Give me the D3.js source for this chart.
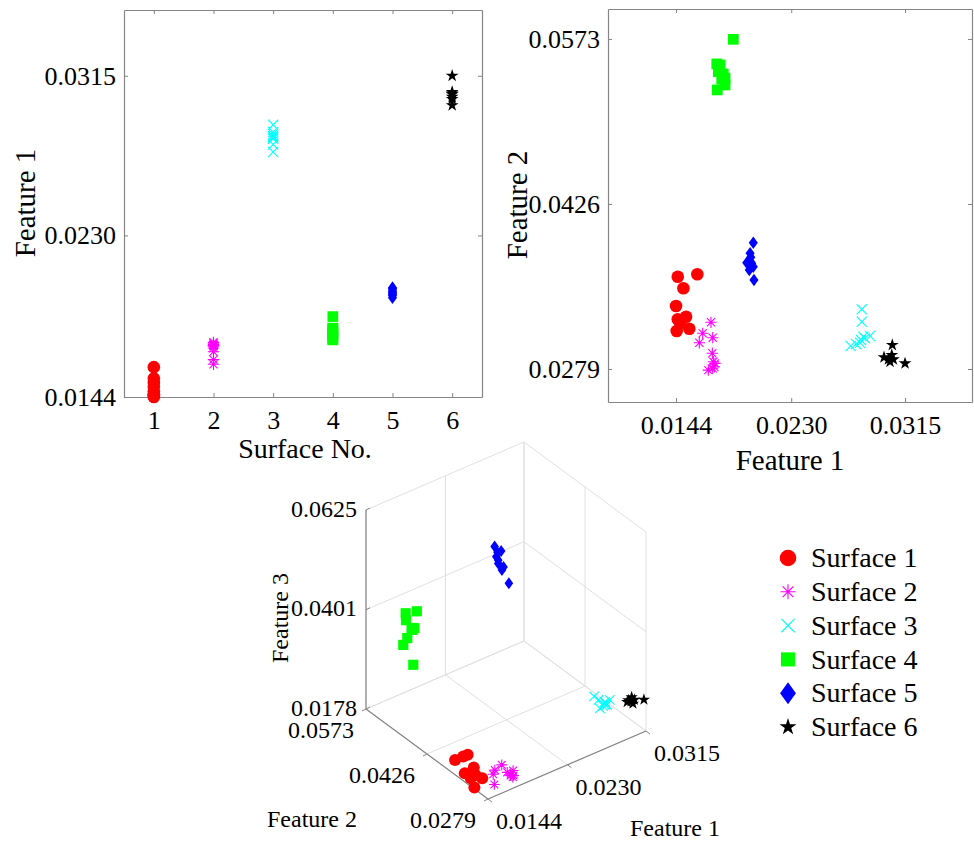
<!DOCTYPE html>
<html>
<head>
<meta charset="utf-8">
<script src="https://cdn.jsdelivr.net/npm/d3@7"></script>
<style>
  body { margin: 0; background: #fff; }
  svg { font-family: "Liberation Serif", "Times New Roman", serif; }
</style>
</head>
<body>
<svg id="chart" width="974" height="843"></svg>
<script>
// ---- data ----
const surfaceNames = ['Surface 1', 'Surface 2', 'Surface 3', 'Surface 4', 'Surface 5', 'Surface 6'];
const surfaceNo = [1, 2, 3, 4, 5, 6];

const feature1 = [
  [0.01453, 0.01599, 0.01495, 0.0144, 0.01453, 0.01515, 0.01445, 0.01539, 0.0147],
  [0.01701, 0.01639, 0.01714, 0.01614, 0.01711, 0.01719, 0.01731, 0.01681, 0.01714, 0.01726],
  [0.02827, 0.02827, 0.02889, 0.02839, 0.02744, 0.02814, 0.02821, 0.02784, 0.02851],
  [0.01868, 0.01744, 0.01769, 0.01756, 0.01793, 0.01806, 0.01781, 0.01806, 0.01748],
  [0.02017, 0.01993, 0.0198, 0.02005, 0.02017, 0.01968, 0.01998, 0.02022, 0.01987],
  [0.03055, 0.02993, 0.03051, 0.03038, 0.03063, 0.0315, 0.03026]
];
const feature2 = [
  [0.03612, 0.03634, 0.03509, 0.03351, 0.03233, 0.03256, 0.03129, 0.03149, 0.0320],
  [0.03206, 0.03108, 0.03069, 0.03024, 0.0293, 0.02855, 0.0284, 0.0278, 0.02796, 0.0281],
  [0.03322, 0.03211, 0.03084, 0.03078, 0.02995, 0.03024, 0.03048, 0.03013, 0.03063],
  [0.05727, 0.05508, 0.05499, 0.05439, 0.05418, 0.0538, 0.05371, 0.0532, 0.05276],
  [0.03915, 0.03821, 0.03746, 0.03731, 0.03701, 0.03737, 0.03785, 0.03583, 0.03672],
  [0.03004, 0.02894, 0.02915, 0.02855, 0.02876, 0.0284, 0.02876]
];
const feature3 = [
  [0.0208, 0.0205, 0.0219, 0.0197, 0.0193, 0.0193, 0.0180, 0.0191, 0.0218],
  [0.0191, 0.0194, 0.0211, 0.0179, 0.0204, 0.0203, 0.0198, 0.0210, 0.0217, 0.0204],
  [0.0248, 0.0248, 0.0251, 0.0249, 0.0251, 0.0250, 0.0255, 0.0252, 0.0245],
  [0.0355, 0.0310, 0.0364, 0.0329, 0.0350, 0.0351, 0.0350, 0.0393, 0.0281],
  [0.0616, 0.0602, 0.0593, 0.0620, 0.0585, 0.0620, 0.0596, 0.0556, 0.0583],
  [0.0241, 0.0250, 0.0254, 0.0245, 0.0250, 0.0245, 0.0250]
];

const f1Ticks = [0.0144, 0.0230, 0.0315];
const f2Ticks = [0.0279, 0.0426, 0.0573];
const f3Ticks = [0.0178, 0.0401, 0.0625];

const colors = ['#ff0000', '#ff00ff', '#00ffff', '#00ff00', '#0000ff', '#000000'];
const shapes = ['circle', 'asterisk', 'cross', 'square', 'diamond', 'star'];

// ---- helpers ----
const svg = d3.select('#chart');
const fmt = d3.format('.4f');
const axisColor = '#858585';

function markerPath(shape, s) {
  switch (shape) {
    case 'circle': return d3.symbol(d3.symbolCircle, Math.PI * s * s)();
    case 'square': return d3.symbol(d3.symbolSquare, 4 * s * s * 0.72)();
    case 'star': return d3.symbol(d3.symbolStar, s * s * 1.15 / 0.8908)();
    case 'diamond': {
      const w = s * 0.72, h = s;
      return `M0,${-h}L${w},0L0,${h}L${-w},0Z`;
    }
    case 'cross': {
      const k = s * 0.8;
      return `M${-k},${-k}L${k},${k}M${-k},${k}L${k},${-k}`;
    }
    case 'asterisk': {
      const k = s * 0.9, d = k * 0.72;
      return `M0,${-k}L0,${k}M${-k},0L${k},0M${-d},${-d}L${d},${d}M${-d},${d}L${d},${-d}`;
    }
  }
}

function styleMarker(sel, i) {
  const lineType = shapes[i] === 'cross' || shapes[i] === 'asterisk';
  sel.attr('fill', lineType ? 'none' : colors[i])
    .attr('stroke', lineType ? colors[i] : 'none')
    .attr('stroke-width', lineType ? 1.1 : 0);
}

function styleAxis(g, size) {
  g.attr('font-family', null).attr('font-size', size);
  g.selectAll('.domain').attr('stroke', axisColor).attr('stroke-width', 1.2);
  g.selectAll('.tick line').attr('stroke', axisColor);
  g.selectAll('.tick text').attr('fill', '#000');
}

function boxPlot(cfg) {
  const {x, y, xTicks, yTicks, xFmt, yFmt} = cfg;
  const [x0, x1] = x.range(), [y0, y1] = y.range();
  const g = svg.append('g');
  g.append('g').attr('transform', `translate(0,${y0})`)
    .call(d3.axisBottom(x).tickValues(xTicks).tickFormat(xFmt).tickSize(-4).tickSizeOuter(0).tickPadding(14))
    .call(s => styleAxis(s, 26));
  g.append('g').attr('transform', `translate(0,${y1})`)
    .call(d3.axisTop(x).tickValues(xTicks).tickFormat('').tickSize(-4).tickSizeOuter(0))
    .call(s => styleAxis(s, 26));
  g.append('g').attr('transform', `translate(${x0},0)`)
    .call(d3.axisLeft(y).tickValues(yTicks).tickFormat(yFmt).tickSize(-4).tickSizeOuter(0).tickPadding(8))
    .call(s => styleAxis(s, 26));
  g.append('g').attr('transform', `translate(${x1},0)`)
    .call(d3.axisRight(y).tickValues(yTicks).tickFormat('').tickSize(-4).tickSizeOuter(0))
    .call(s => styleAxis(s, 26));
  return g;
}

// ---- plot 1: Feature 1 vs surface number ----
const x1s = d3.scaleLinear().domain([0.5, 6.5]).range([124, 482]);
const y1s = d3.scaleLinear().domain([0.0144, 0.035]).range([397, 10]);
const p1 = boxPlot({x: x1s, y: y1s, xTicks: surfaceNo, yTicks: f1Ticks, xFmt: d3.format('d'), yFmt: fmt});
surfaceNo.forEach((n, i) => {
  p1.append('g').selectAll('path').data(feature1[i]).join('path')
    .attr('d', markerPath(shapes[i], 6.3))
    .attr('transform', d => `translate(${x1s(n)},${y1s(d)})`)
    .call(s => styleMarker(s, i));
});
svg.append('text').attr('x', 305).attr('y', 458).attr('text-anchor', 'middle')
  .attr('font-size', 28).text('Surface No.');
svg.append('text').attr('transform', 'translate(35,203) rotate(-90)').attr('text-anchor', 'middle')
  .attr('font-size', 29).text('Feature 1');

// ---- plot 2: Feature 2 vs Feature 1 ----
const x2s = d3.scaleLinear().domain([0.00932, 0.0365]).range([608, 972]);
const y2s = d3.scaleLinear().domain([0.02496, 0.05997]).range([402, 9]);
const p2 = boxPlot({x: x2s, y: y2s, xTicks: f1Ticks, yTicks: f2Ticks, xFmt: fmt, yFmt: fmt});
surfaceNames.forEach((name, i) => {
  p2.append('g').selectAll('path').data(feature1[i]).join('path')
    .attr('d', markerPath(shapes[i], 6.3))
    .attr('transform', (d, j) => `translate(${x2s(d)},${y2s(feature2[i][j])})`)
    .call(s => styleMarker(s, i));
});
svg.append('text').attr('x', 790).attr('y', 470).attr('text-anchor', 'middle')
  .attr('font-size', 29).text('Feature 1');
svg.append('text').attr('transform', 'translate(527,205) rotate(-90)').attr('text-anchor', 'middle')
  .attr('font-size', 29).text('Feature 2');

// ---- plot 3: 3-D view ----
const aS = d3.scaleLinear().domain([f1Ticks[0], f1Ticks[2]]).range([0, 1]);
const bS = d3.scaleLinear().domain([f2Ticks[0], f2Ticks[2]]).range([0, 1]);
const cS = d3.scaleLinear().domain([f3Ticks[0], f3Ticks[2]]).range([0, 1]);
const O = [488, 799], A = [158, -68], B = [-122, -90], C = [0, -199];
function proj(f1, f2, f3) {
  const a = aS(f1), b = bS(f2), c = cS(f3);
  return [O[0] + A[0] * a + B[0] * b, O[1] + A[1] * a + B[1] * b + C[1] * c];
}
const [f1min, f1max] = [f1Ticks[0], f1Ticks[2]];
const [f2min, f2max] = [f2Ticks[0], f2Ticks[2]];
const [f3min, f3max] = [f3Ticks[0], f3Ticks[2]];

const gridSegs = [];
f1Ticks.forEach(t => {
  gridSegs.push([proj(t, f2min, f3min), proj(t, f2max, f3min)]);
  gridSegs.push([proj(t, f2max, f3min), proj(t, f2max, f3max)]);
});
f2Ticks.forEach(t => {
  gridSegs.push([proj(f1min, t, f3min), proj(f1max, t, f3min)]);
  gridSegs.push([proj(f1max, t, f3min), proj(f1max, t, f3max)]);
});
f3Ticks.forEach(t => {
  gridSegs.push([proj(f1min, f2max, t), proj(f1max, f2max, t)]);
  gridSegs.push([proj(f1max, f2min, t), proj(f1max, f2max, t)]);
});
const p3 = svg.append('g');
p3.append('g').selectAll('line').data(gridSegs).join('line')
  .attr('x1', d => d[0][0]).attr('y1', d => d[0][1])
  .attr('x2', d => d[1][0]).attr('y2', d => d[1][1])
  .attr('stroke', '#e0e0e0').attr('stroke-width', 1);

const axisSegs = [
  [proj(f1min, f2min, f3min), proj(f1max, f2min, f3min)],
  [proj(f1min, f2min, f3min), proj(f1min, f2max, f3min)],
  [proj(f1min, f2max, f3min), proj(f1min, f2max, f3max)]
];
p3.append('g').selectAll('line').data(axisSegs).join('line')
  .attr('x1', d => d[0][0]).attr('y1', d => d[0][1])
  .attr('x2', d => d[1][0]).attr('y2', d => d[1][1])
  .attr('stroke', axisColor).attr('stroke-width', 1.2);

// small ticks
const tickSegs = [];
f1Ticks.forEach(t => { const p = proj(t, f2min, f3min); tickSegs.push([p, [p[0] + 4, p[1] + 3]]); });
f2Ticks.forEach(t => { const p = proj(f1min, t, f3min); tickSegs.push([p, [p[0] - 4, p[1] + 2]]); });
f3Ticks.forEach(t => { const p = proj(f1min, f2max, t); tickSegs.push([p, [p[0] + 4, p[1] - 2]]); });
p3.append('g').selectAll('line').data(tickSegs).join('line')
  .attr('x1', d => d[0][0]).attr('y1', d => d[0][1])
  .attr('x2', d => d[1][0]).attr('y2', d => d[1][1])
  .attr('stroke', axisColor).attr('stroke-width', 1);

p3.append('g').attr('font-size', 24).selectAll('text').data(f1Ticks).join('text')
  .attr('x', d => proj(d, f2min, f3min)[0] + 8).attr('y', d => proj(d, f2min, f3min)[1] + 30)
  .text(fmt);
p3.append('g').attr('font-size', 24).attr('text-anchor', 'end').selectAll('text').data(f2Ticks).join('text')
  .attr('x', d => proj(f1min, d, f3min)[0] - 12).attr('y', d => proj(f1min, d, f3min)[1] + 29)
  .text(fmt);
p3.append('g').attr('font-size', 24).attr('text-anchor', 'end').selectAll('text').data(f3Ticks).join('text')
  .attr('x', d => proj(f1min, f2max, d)[0] - 9).attr('y', d => proj(f1min, f2max, d)[1])
  .attr('dy', '0.28em').text(fmt);

svg.append('text').attr('x', 675).attr('y', 836).attr('text-anchor', 'middle')
  .attr('font-size', 24).text('Feature 1');
svg.append('text').attr('x', 312).attr('y', 827).attr('text-anchor', 'middle')
  .attr('font-size', 24).text('Feature 2');
svg.append('text').attr('transform', 'translate(288,618) rotate(-90)').attr('text-anchor', 'middle')
  .attr('font-size', 24).text('Feature 3');

surfaceNames.forEach((name, i) => {
  p3.append('g').selectAll('path').data(feature1[i]).join('path')
    .attr('d', markerPath(shapes[i], 6))
    .attr('transform', (d, j) => {
      const p = proj(d, feature2[i][j], feature3[i][j]);
      return `translate(${p[0]},${p[1]})`;
    })
    .call(s => styleMarker(s, i));
});

// ---- legend ----
const legend = svg.append('g').attr('transform', 'translate(788,558)');
const rows = legend.selectAll('g').data(surfaceNames).join('g')
  .attr('transform', (d, i) => `translate(0,${i * 33.8})`);
rows.append('path')
  .attr('d', (d, i) => markerPath(shapes[i], i === 4 ? 11 : 8.3))
  .each(function (d, i) { d3.select(this).call(s => styleMarker(s, i)); });
rows.append('text').attr('x', 23).attr('dy', '0.33em').attr('font-size', 28).text(d => d);
</script>
</body>
</html>
